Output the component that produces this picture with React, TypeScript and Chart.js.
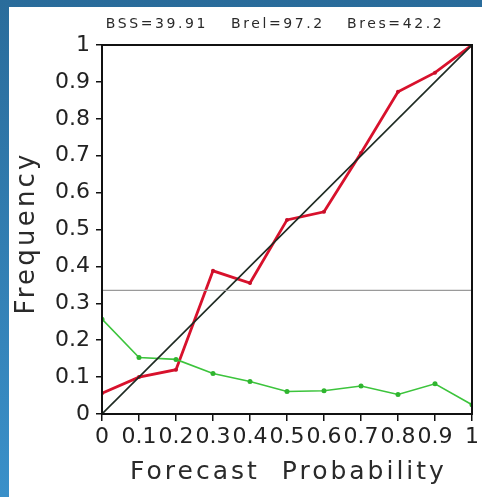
import React, { useEffect, useRef } from "react";
import { Chart, registerables } from "chart.js";

Chart.register(...registerables);

const probBins = [0, 0.1, 0.2, 0.3, 0.4, 0.5, 0.6, 0.7, 0.8, 0.9, 1];
const observedFreq = [0.056, 0.1, 0.12, 0.388, 0.355, 0.526, 0.548, 0.707, 0.873, 0.925, 1.0];
const forecastFreq = [0.257, 0.153, 0.148, 0.11, 0.088, 0.061, 0.063, 0.076, 0.053, 0.082, 0.025];
const perfectLine = [0, 1];
const climatology = 0.335;
const xTickLabels = ["0", "0.1", "0.2", "0.3", "0.4", "0.5", "0.6", "0.7", "0.8", "0.9", "1"];
const yTickLabels = ["0", "0.1", "0.2", "0.3", "0.4", "0.5", "0.6", "0.7", "0.8", "0.9", "1"];
const titleParts = ["BSS=39.91", "Brel=97.2", "Bres=42.2"];
const xTitle = "Forecast  Probability";
const yTitle = "Frequency";

const FONT = "'DejaVu Sans', 'Liberation Sans', sans-serif";

const decorPlugin = {
  id: "decor",
  afterDatasetsDraw(chart: any) {
    const { ctx, chartArea } = chart;
    const { left, right, top, bottom } = chartArea;
    ctx.save();
    ctx.strokeStyle = "#111";
    ctx.lineWidth = 2;
    ctx.strokeRect(left, top, right - left, bottom - top);
    ctx.restore();
  },
  afterDraw(chart: any) {
    const { ctx, chartArea } = chart;
    const { left, right, top, bottom } = chartArea;
    ctx.save();
    ctx.fillStyle = "#2a2a2a";
    ctx.font = `14px ${FONT}`;
    (ctx as any).letterSpacing = "2.6px";
    ctx.textAlign = "center";
    ctx.textBaseline = "middle";
    const w = right - left;
    const centers = [left + 0.145 * w, left + 0.472 * w, left + 0.79 * w];
    titleParts.forEach((t, i) => ctx.fillText(t, centers[i] + 1.3, 24));
    ctx.font = `25px ${FONT}`;
    (ctx as any).letterSpacing = "3px";
    ctx.fillText(xTitle, (left + right) / 2 + 1.5, 472);
    ctx.translate(27, (top + bottom) / 2 + 5);
    ctx.rotate(-Math.PI / 2);
    ctx.font = `26px ${FONT}`;
    (ctx as any).letterSpacing = "3.2px";
    ctx.fillText(yTitle, 1.6, 0);
    ctx.restore();
  },
};

export default function App() {
  const ref = useRef<HTMLCanvasElement>(null);

  useEffect(() => {
    if (!ref.current) return;
    const chart = new Chart(ref.current, {
      type: "line",
      data: {
        datasets: [
          {
            label: "climatology",
            data: perfectLine.map((x) => ({ x, y: climatology })),
            borderColor: "#9a9a9a",
            borderWidth: 1.2,
            pointRadius: 0,
          },
          {
            label: "perfect",
            data: perfectLine.map((v) => ({ x: v, y: v })),
            borderColor: "#1e2a22",
            borderWidth: 1.6,
            pointRadius: 0,
          },
          {
            label: "forecast",
            data: probBins.map((x, i) => ({ x, y: forecastFreq[i] })),
            borderColor: "#3cc43c",
            backgroundColor: "#2fb52f",
            borderWidth: 1.6,
            pointRadius: 2.5,
            pointBorderWidth: 0,
          },
          {
            label: "observed",
            data: probBins.map((x, i) => ({ x, y: observedFreq[i] })),
            borderColor: "#d8112c",
            backgroundColor: "#c8102a",
            borderWidth: 2.8,
            pointRadius: 2,
            pointBorderWidth: 0,
          },
        ],
      },
      options: {
        animation: false,
        responsive: false,
        maintainAspectRatio: false,
        layout: { padding: { left: 0, top: 45, right: 8, bottom: 0 } },
        plugins: { legend: { display: false }, tooltip: { enabled: false }, title: { display: false } },
        scales: {
          x: {
            type: "linear",
            min: 0,
            max: 1,
            afterFit: (s: any) => {
              s.height = 83;
            },
            afterBuildTicks: (s: any) => {
              s.ticks = probBins.map((v) => ({ value: v }));
            },
            border: { display: false },
            grid: { drawOnChartArea: false, drawTicks: true, tickLength: 7, color: "#111", lineWidth: 1.5 },
            ticks: {
              padding: 3,
              maxRotation: 0,
              autoSkip: false,
              color: "#222",
              font: { family: FONT, size: 22 },
              callback: (v: any) => {
                const i = probBins.findIndex((b) => Math.abs(b - v) < 1e-6);
                return i >= 0 ? xTickLabels[i] : "";
              },
            },
          },
          y: {
            type: "linear",
            min: 0,
            max: 1,
            afterFit: (s: any) => {
              s.width = 102;
            },
            afterBuildTicks: (s: any) => {
              s.ticks = probBins.map((v) => ({ value: v }));
            },
            border: { display: false },
            grid: { drawOnChartArea: false, drawTicks: true, tickLength: 6, color: "#111", lineWidth: 1.5 },
            ticks: {
              padding: 6,
              autoSkip: false,
              color: "#222",
              font: { family: FONT, size: 22 },
              callback: (v: any) => {
                const i = probBins.findIndex((b) => Math.abs(b - v) < 1e-6);
                return i >= 0 ? yTickLabels[i] : "";
              },
            },
          },
        },
      },
      plugins: [decorPlugin],
    });
    return () => chart.destroy();
  }, []);

  return (
    <div
      style={{
        position: "fixed",
        left: 0,
        top: 0,
        width: 482,
        height: 497,
        background: "linear-gradient(to bottom, #2a6c9b, #3a90c9)",
      }}
    >
      <div style={{ position: "absolute", left: 9, top: 7, right: 0, bottom: 0, background: "#fff" }} />
      <canvas ref={ref} width={482} height={497} style={{ position: "absolute", left: 0, top: 0, width: 482, height: 497 }} />
    </div>
  );
}
